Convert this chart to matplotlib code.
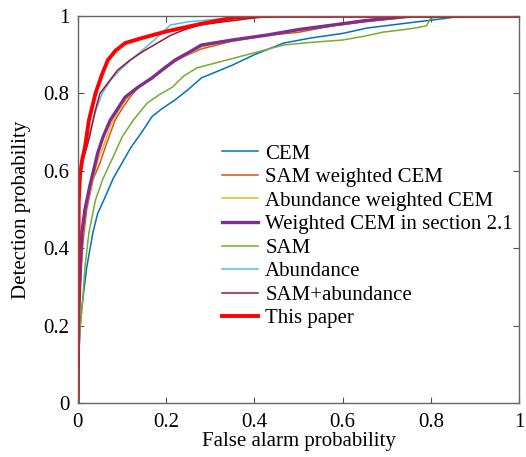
import matplotlib
matplotlib.use("Agg")
import matplotlib.pyplot as plt

plt.rcParams['font.family'] = ['Liberation Serif', 'DejaVu Serif']

labels = ["CEM", "SAM weighted CEM", "Abundance weighted CEM",
          "Weighted CEM in section 2.1", "SAM", "Abundance",
          "SAM+abundance", "This paper"]
colors = ["#0072BD", "#D95319", "#EDB120", "#7E2F8E", "#77AC30",
          "#4DBEEE", "#A2142F", "#FF0000"]
widths = [1.1, 1.1, 1.1, 2.4, 1.1, 1.1, 1.1, 2.8]

cem_x = [0, 0.002, 0.005, 0.011, 0.02, 0.034, 0.045, 0.059, 0.08, 0.1, 0.12, 0.145, 0.168, 0.19, 0.22, 0.25, 0.28, 0.35, 0.4, 0.466, 0.527, 0.6, 0.656, 0.72, 0.77, 0.82, 0.875, 1]
cem_y = [0, 0.12, 0.196, 0.266, 0.35, 0.44, 0.49, 0.525, 0.58, 0.62, 0.66, 0.7, 0.74, 0.76, 0.783, 0.81, 0.84, 0.873, 0.9, 0.93, 0.943, 0.955, 0.969, 0.978, 0.985, 0.992, 1.0, 1.0]

samw_x = [0, 0.002, 0.006, 0.012, 0.02, 0.034, 0.05, 0.065, 0.084, 0.1, 0.118, 0.14, 0.17, 0.2, 0.23, 0.28, 0.35, 0.43, 0.5, 0.58, 0.65, 0.73, 0.77, 1]
samw_y = [0, 0.2, 0.33, 0.42, 0.5, 0.576, 0.62, 0.67, 0.73, 0.76, 0.79, 0.82, 0.84, 0.87, 0.89, 0.915, 0.935, 0.95, 0.958, 0.975, 0.985, 0.995, 1.0, 1.0]

abw_x = [0, 0.002, 0.005, 0.01, 0.018, 0.03, 0.046, 0.06, 0.075, 0.1, 0.11, 0.13, 0.17, 0.2, 0.22, 0.28, 0.35, 0.43, 0.5, 0.58, 0.65, 0.73, 0.76, 1]
abw_y = [0, 0.2, 0.3, 0.43, 0.5, 0.56, 0.63, 0.67, 0.72, 0.77, 0.785, 0.81, 0.84, 0.865, 0.882, 0.92, 0.938, 0.952, 0.962, 0.977, 0.987, 0.996, 1.0, 1.0]

wcem_x = [0, 0.001, 0.003, 0.009, 0.016, 0.027, 0.045, 0.057, 0.073, 0.09, 0.107, 0.135, 0.168, 0.19, 0.22, 0.25, 0.28, 0.35, 0.43, 0.5, 0.58, 0.65, 0.73, 0.76, 1]
wcem_y = [0, 0.18, 0.266, 0.44, 0.5, 0.56, 0.646, 0.687, 0.73, 0.76, 0.79, 0.815, 0.84, 0.86, 0.886, 0.905, 0.925, 0.938, 0.951, 0.965, 0.977, 0.988, 0.997, 1.0, 1.0]

sam_x = [0, 0.002, 0.005, 0.011, 0.016, 0.025, 0.04, 0.057, 0.084, 0.1, 0.125, 0.157, 0.185, 0.214, 0.24, 0.27, 0.3, 0.35, 0.4, 0.466, 0.53, 0.6, 0.65, 0.69, 0.74, 0.77, 0.79, 0.8, 0.85, 1]
sam_y = [0, 0.12, 0.196, 0.266, 0.35, 0.44, 0.525, 0.58, 0.646, 0.687, 0.73, 0.775, 0.797, 0.816, 0.845, 0.866, 0.875, 0.89, 0.905, 0.925, 0.932, 0.938, 0.948, 0.958, 0.965, 0.97, 0.975, 0.995, 1.0, 1.0]

abun_x = [0, 0.002, 0.005, 0.012, 0.02, 0.03, 0.042, 0.055, 0.075, 0.095, 0.12, 0.15, 0.18, 0.21, 0.25, 0.3, 0.375, 1]
abun_y = [0, 0.5, 0.59, 0.64, 0.67, 0.71, 0.76, 0.80, 0.835, 0.86, 0.886, 0.915, 0.945, 0.977, 0.985, 0.99, 1.0, 1.0]

samab_x = [0, 0.002, 0.005, 0.012, 0.02, 0.027, 0.038, 0.05, 0.07, 0.09, 0.118, 0.15, 0.18, 0.21, 0.24, 0.277, 0.33, 0.4, 0.45, 1]
samab_y = [0, 0.5, 0.59, 0.63, 0.66, 0.69, 0.75, 0.80, 0.83, 0.86, 0.886, 0.91, 0.93, 0.95, 0.964, 0.977, 0.985, 0.995, 1.0, 1.0]

paper_x = [0, 0.002, 0.005, 0.01, 0.016, 0.025, 0.04, 0.055, 0.068, 0.085, 0.107, 0.145, 0.2, 0.28, 0.35, 0.4, 1]
paper_y = [0, 0.52, 0.59, 0.63, 0.66, 0.73, 0.80, 0.85, 0.886, 0.91, 0.93, 0.943, 0.96, 0.98, 0.995, 1.0, 1.0]

series = [(cem_x, cem_y), (samw_x, samw_y), (abw_x, abw_y), (wcem_x, wcem_y),
          (sam_x, sam_y), (abun_x, abun_y), (samab_x, samab_y), (paper_x, paper_y)]

fig = plt.figure(figsize=(5.26, 4.57), dpi=100)
ax = fig.add_axes([0.148, 0.118, 0.839, 0.847])
for (xs, ys), lab, c, w in zip(series, labels, colors, widths):
    ax.plot(xs, ys, color=c, lw=w, label=lab, solid_joinstyle='round')

ax.set_xlim(0, 1)
ax.set_ylim(0, 1)
ticks = [0, 0.2, 0.4, 0.6, 0.8, 1]
ticklabels = ["0", "0.2", "0.4", "0.6", "0.8", "1"]
ax.set_xticks(ticks)
ax.set_xticklabels(ticklabels)
ax.set_yticks(ticks)
ax.set_yticklabels(ticklabels)
ax.tick_params(direction='in', top=True, right=True, length=4, width=0.8,
               color='#555555', labelsize=15)
ax.tick_params(axis='x', pad=7)
ax.tick_params(axis='y', pad=6)
for s in ax.spines.values():
    s.set_color('#666666')
    s.set_linewidth(1.0)
ax.set_xlabel("False alarm probability", fontsize=15, labelpad=0)
ax.set_ylabel("Detection probability", fontsize=15, labelpad=9)

ax.legend(loc='upper left', bbox_to_anchor=(0.327, 0.669), frameon=False,
          fontsize=15, handlelength=1.73, handletextpad=0.34,
          labelspacing=0.19, borderaxespad=0, borderpad=0)

fig.savefig("out.png", dpi=100)
